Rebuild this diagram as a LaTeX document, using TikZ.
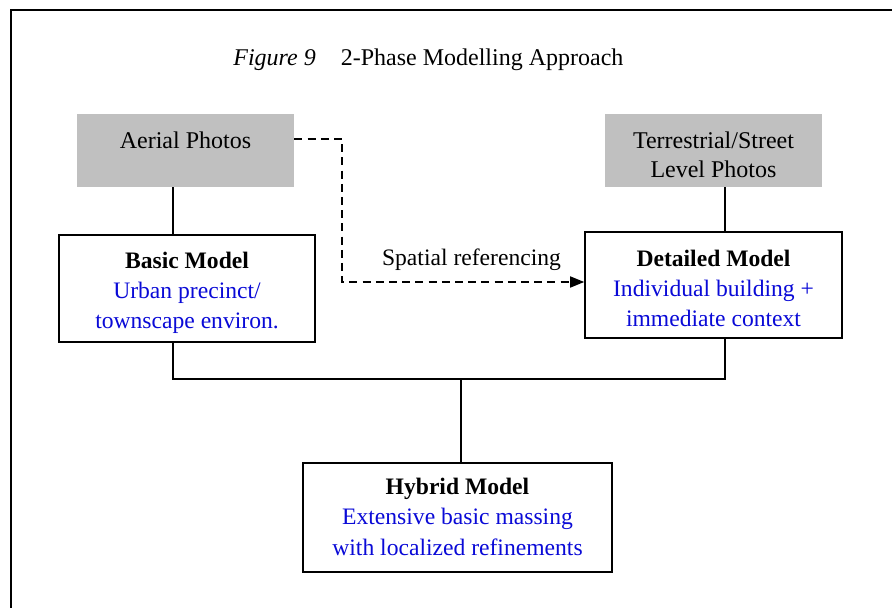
\documentclass[tikz,border=0pt]{standalone}
\usepackage{fontspec}
\setmainfont{Liberation Serif}
\usepackage{tikz}
\usetikzlibrary{arrows.meta}
\definecolor{photogray}{RGB}{192,192,192}
\definecolor{modelblue}{RGB}{10,10,215}

\begin{document}
\begin{tikzpicture}[x=0.5pt,y=-0.5pt,
        photo/.style={rectangle,fill=photogray,inner sep=0pt,align=center,
          font=\fontsize{12}{14.5}\selectfont},
        model/.style={rectangle,draw=black,line width=0.8pt,fill=white,inner sep=0pt,
          align=center,font=\fontsize{11.8}{15.1}\selectfont},
        link/.style={line width=0.8pt},
        dashlink/.style={line width=0.8pt,dash pattern=on 4pt off 2.6pt,
          -{Triangle[length=7pt,width=5.5pt]}}]
      \useasboundingbox (0,0) rectangle (892,608);
      \draw[line width=1pt] (11,608) -- (11,10) -- (892,10);
      \node [anchor=base west,inner sep=0pt,font=\fontsize{12}{14}\selectfont] (title) at (233,66)
        {\textit{Figure 9}\hspace{12.5pt}2-Phase Modelling Approach};
      \node [photo,minimum width=108.5pt,text height=17.5pt,text depth=19pt]
        (aerial) at (185.5,150.5) {Aerial Photos};
      \node [photo,minimum width=108.5pt,text height=32pt,text depth=4.5pt]
        (street) at (713.5,150.5) {Terrestrial/Street\\Level Photos};
      \node [model,minimum width=128pt,text height=47pt,text depth=6.5pt]
        (basic) at (187,288.5) {\textbf{Basic Model}\\
        \textcolor{modelblue}{Urban precinct/}\\\textcolor{modelblue}{townscape environ.}};
      \node [model,minimum width=128.5pt,text height=47.5pt,text depth=5.5pt]
        (detailed) at (713.5,285) {\textbf{Detailed Model}\\
        \textcolor{modelblue}{Individual building +}\\\textcolor{modelblue}{immediate context}};
      \node [model,minimum width=154.5pt,text height=46pt,text depth=8.5pt]
        (hybrid) at (457.5,517.5) {\textbf{Hybrid Model}\\
        \textcolor{modelblue}{Extensive basic massing}\\\textcolor{modelblue}{with localized refinements}};
      \node [font=\fontsize{11.8}{14}\selectfont] (spatial) at (471.5,260) {Spatial referencing};
      \coordinate (bus) at (461,379);
      \coordinate (turn) at (342,282);
      \draw[link] ([xshift=-6.25pt]aerial.south) -- ([xshift=-6.25pt]aerial.south |- basic.north);
      \draw[link] ([xshift=5.75pt]street.south) -- ([xshift=5.75pt]street.south |- detailed.north);
      \draw[link] ([xshift=-7pt]basic.south) |- (bus) -| ([xshift=5.75pt]detailed.south);
      \draw[link] (bus) -- (bus |- hybrid.north);
      \draw[dashlink] ([yshift=5.75pt]aerial.east) -| (turn) -- (turn -| detailed.west);
    \end{tikzpicture}
\end{document}
